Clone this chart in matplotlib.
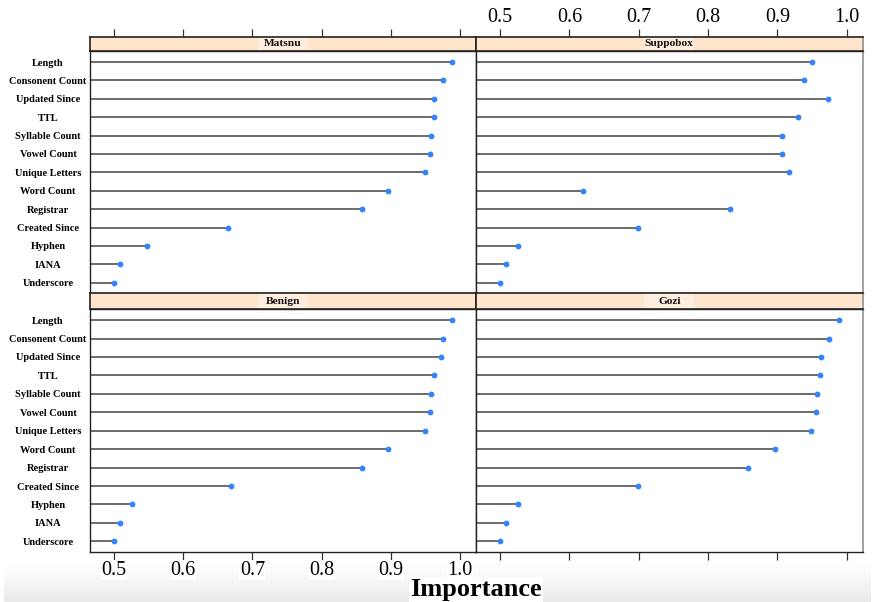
import numpy as np
import matplotlib
matplotlib.use("Agg")
import matplotlib.pyplot as plt
from matplotlib.patches import Rectangle

features = ["Length", "Consonent Count", "Updated Since", "TTL", "Syllable Count",
            "Vowel Count", "Unique Letters", "Word Count", "Registrar",
            "Created Since", "Hyphen", "IANA", "Underscore"]

matsnu = [0.989, 0.975, 0.963, 0.962, 0.958, 0.956, 0.949, 0.896, 0.858, 0.665, 0.548, 0.508, 0.500]
suppobox = [0.950, 0.939, 0.973, 0.930, 0.907, 0.906, 0.917, 0.620, 0.831, 0.699, 0.526, 0.509, 0.500]
benign = [0.989, 0.975, 0.973, 0.962, 0.958, 0.956, 0.949, 0.896, 0.858, 0.669, 0.526, 0.508, 0.500]
gozi = [0.989, 0.975, 0.963, 0.962, 0.957, 0.955, 0.949, 0.896, 0.858, 0.699, 0.526, 0.509, 0.500]

xticks = [0.5, 0.6, 0.7, 0.8, 0.9, 1.0]
xtick_labels = ["0.5", "0.6", "0.7", "0.8", "0.9", "1.0"]
xlim = (0.4653, 1.023)

W, H = 872, 602
fig = plt.figure(figsize=(W / 100, H / 100), dpi=100)
serif = "Liberation Serif"

# bottom grey gradient band
bg = fig.add_axes([4 / W, 0, 866 / W, 38 / H], zorder=-5)
grad = np.linspace(1.0, 0.92, 64).reshape(-1, 1)
bg.imshow(np.dstack([grad, grad, grad]), aspect="auto", extent=(0, 1, 0, 1))
bg.set_axis_off()

def fy(px):
    return 1 - px / H

panels = [
    ("Matsnu", matsnu, 90, 476, 36.5, 51, 293, 0, 0),
    ("Suppobox", suppobox, 476, 862.7, 36.5, 51, 293, 1, 0),
    ("Benign", benign, 90, 476, 293.3, 309, 551.7, 0, 1),
    ("Gozi", gozi, 476, 862.7, 293.3, 309, 551.7, 1, 1),
]

n = len(features)
ypos = np.arange(n)[::-1] + 1

for name, vals, l, r, st, sb, pb, col, row in panels:
    ax = fig.add_axes([l / W, fy(pb), (r - l) / W, (pb - sb) / H])
    ax.set_xlim(*xlim)
    ax.set_ylim(0.44, n + 0.6)
    ax.hlines(ypos, xlim[0], vals, color="#444444", lw=1.1, zorder=2)
    ax.plot(vals, ypos, "o", color="#3483F7", ms=4.2, mec="none", zorder=3)
    ax.set_xticks(xticks)
    if col == 0:
        ax.set_yticks(ypos)
        ax.set_yticklabels(features, fontfamily=serif, fontweight="bold", fontsize=7.5,
                           ha="center")
        ax.tick_params(axis="y", length=0, pad=(l - 48) * 0.72)
    else:
        ax.set_yticks([])
    if row == 1:
        ax.tick_params(axis="x", direction="out", length=6, width=0.9, color="#333333", pad=0.5)
        if col == 0:
            ax.set_xticklabels(xtick_labels, fontfamily=serif, fontsize=14.5)
            for lab in ax.get_xticklabels():
                lab.set_bbox(dict(facecolor="white", edgecolor="none", pad=0.3))
        else:
            ax.set_xticklabels([])
    else:
        ax.tick_params(axis="x", length=0, labelbottom=False)
    for s in ax.spines.values():
        s.set_color("#222222")
        s.set_linewidth(1.0)
    if col == 1:
        ax.spines["right"].set_color("#999999")
        ax.spines["right"].set_linewidth(1.3)

    sax = fig.add_axes([l / W, fy(sb), (r - l) / W, (sb - st) / H])
    sax.set_facecolor("#FFE5CC")
    sax.set_xlim(0, r - l)
    sax.set_ylim(0, 1)
    sax.set_yticks([])
    cx = (r - l) / 2
    sax.add_patch(Rectangle((cx - 25, 0), 50, 1, facecolor="#FFEEDE", edgecolor="none", zorder=1))
    sax.text(cx, 0.5, name, ha="center", va="center",
             fontfamily=serif, fontweight="bold", fontsize=8.2, color="#111111", zorder=2)
    for s in sax.spines.values():
        s.set_color("#222222")
        s.set_linewidth(1.2)
    if col == 1:
        sax.spines["right"].set_color("#999999")
        sax.spines["right"].set_linewidth(1.3)
    tax = sax.twiny()
    tax.set_xlim(*xlim)
    tax.set_xticks(xticks)
    tax.patch.set_visible(False)
    for s in tax.spines.values():
        s.set_visible(False)
    sax.set_xticks([])
    if row == 0:
        tax.xaxis.set_ticks_position("top")
        tax.tick_params(axis="x", direction="out", length=6, width=0.9, color="#333333", pad=0.5)
        if col == 1:
            tax.set_xticklabels(xtick_labels, fontfamily=serif, fontsize=14.5)
        else:
            tax.set_xticklabels([])
    else:
        tax.tick_params(axis="x", length=0, labelbottom=False, labeltop=False)

fig.text(476 / W, fy(589.5), "Importance", ha="center", va="center", fontfamily=serif,
         fontweight="bold", fontsize=19,
         bbox=dict(facecolor="white", edgecolor="none", pad=1))

fig.savefig("out.png", dpi=100)
